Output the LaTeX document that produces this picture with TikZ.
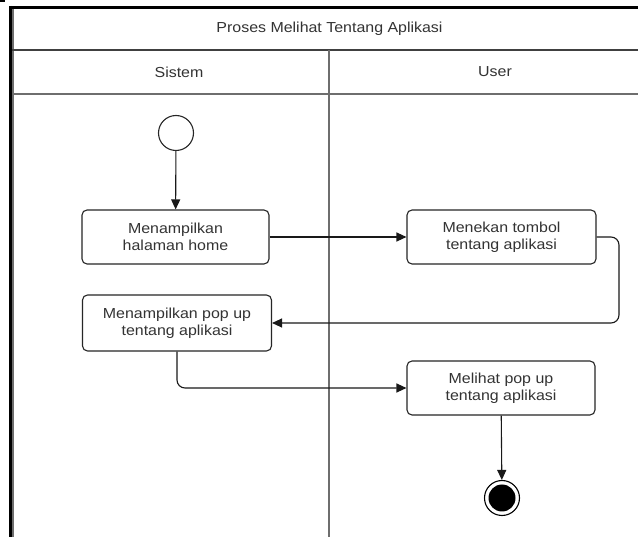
\documentclass[tikz,border=0pt]{standalone}
\usepackage{fontspec}
\setmainfont{Liberation Sans}[FakeStretch=1.1]
\usetikzlibrary{arrows.meta}
\definecolor{txtgray}{HTML}{333333}
\definecolor{framegray}{HTML}{6E6E6E}
\begin{document}
\begin{tikzpicture}[x=1pt,y=-1pt,
  lbl/.style={text=txtgray,font=\fontsize{14.5}{17}\selectfont,inner sep=0pt},
  actbox/.style={draw=black!85,line width=1.1pt,rounded corners=5pt,fill=white,
    align=center,text=txtgray,font=\fontsize{14.5}{17}\selectfont,inner sep=0pt},
  arr/.style={draw=black!90,line width=1.1pt,-{Triangle[length=10pt,width=9pt]}},
  lane/.style={draw=black!75,line width=1.2pt}]
\useasboundingbox (0,0) rectangle (638,537);
\fill[white] (0,0) rectangle (638,537);
% small corner mark
\fill[black] (0,0) rectangle (5,2.5);
% frame
\draw[framegray,line width=2pt] (13.2,9) -- (13.2,537);
\draw[black,line width=3pt] (10.5,7.5) -- (638,7.5);
\draw[black,line width=3pt] (10.5,6) -- (10.5,537);
% header separators
\draw[lane] (12,50) -- (638,50);
\draw[framegray,line width=1.6pt] (12,94) -- (638,94);
\draw[framegray,line width=1.2pt] (329,50) -- (329,537);
% header texts
\node[lbl] (title) at (329.5,29) {Proses Melihat Tentang Aplikasi};
\node[lbl] (sistem) at (179,72) {Sistem};
\node[lbl] (user) at (495,72) {User};
% start node
\node[circle,draw=black!85,line width=1.1pt,fill=white,minimum size=35pt,inner sep=0pt] (start) at (176,133) {};
% activities
\node[actbox,minimum width=187pt,minimum height=54pt] (b1) at (175.5,237) {Menampilkan\\halaman home};
\node[actbox,minimum width=189pt,minimum height=54pt] (b2) at (501.5,237) {Menekan tombol\\tentang aplikasi};
\node[actbox,minimum width=189pt,minimum height=56pt] (b3) at (177,323) {Menampilkan pop up\\tentang aplikasi};
\node[actbox,minimum width=188pt,minimum height=54pt] (b4) at (501,388) {Melihat pop up\\tentang aplikasi};
% end node
\node[circle,draw=black,line width=1.1pt,fill=white,minimum size=35pt,inner sep=0pt] (endn) at (502,498) {};
\node[circle,fill=black,minimum size=27pt,inner sep=0pt] (endin) at (502,498) {};
% connectors
\coordinate (c1) at (619,237);
\draw[arr] (start) -- (b1);
\draw[arr] (b1) -- (b2);
\draw[arr,rounded corners=8pt] (b2.east) -- (c1) |- (b3.east);
\draw[arr,rounded corners=8pt] (b3.south) |- (b4.west);
\draw[arr] (b4) -- (endn);
\end{tikzpicture}
\end{document}
